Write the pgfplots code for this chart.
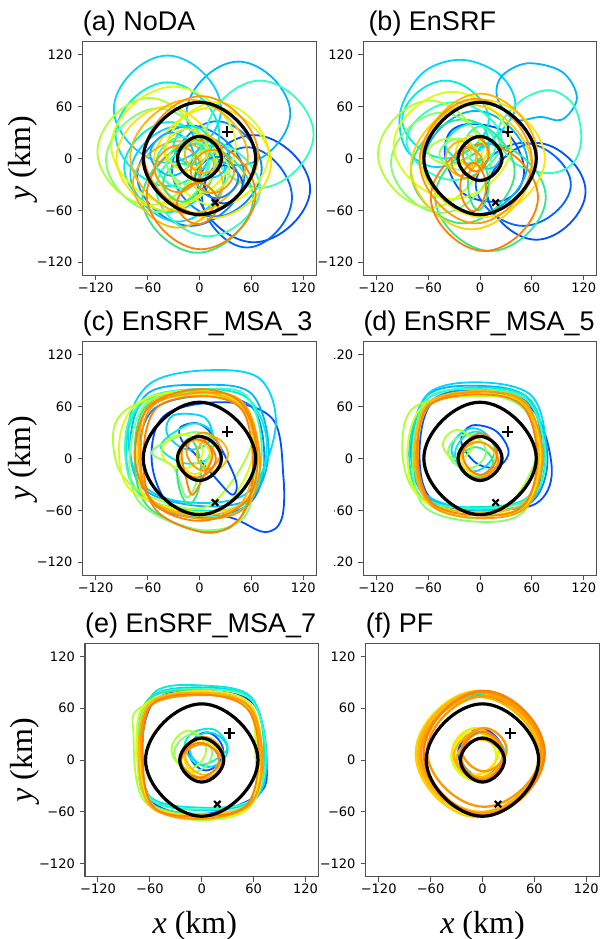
\documentclass[border=0pt]{standalone}
\usepackage{fontspec}
\setmainfont{DejaVu Sans}
\newfontfamily\titlefont{Liberation Sans}
\newfontfamily\labelfont{Liberation Serif}
\usepackage{pgfplots}
\pgfplotsset{compat=1.18}

\definecolor{cA}{HTML}{0050FF}
\definecolor{cA2}{HTML}{0066FF}
\definecolor{cB}{HTML}{0088FF}
\definecolor{cD}{HTML}{00B4FF}
\definecolor{cC}{HTML}{00D4FF}
\definecolor{cE}{HTML}{00EED8}
\definecolor{cF}{HTML}{30FFC0}
\definecolor{cG}{HTML}{30E888}
\definecolor{cH}{HTML}{80FF70}
\definecolor{cI}{HTML}{B0FF30}
\definecolor{cJ}{HTML}{D8FF10}
\definecolor{cK}{HTML}{FFE400}
\definecolor{cK2}{HTML}{FFD000}
\definecolor{cL}{HTML}{FFB400}
\definecolor{cM}{HTML}{FF9800}
\definecolor{cN}{HTML}{FF8000}
\definecolor{FrameColor}{HTML}{505050}

\pgfplotsset{
  panel/.style={
    scale only axis, width=233.5pt, height=233.5pt, anchor=north west,
    xmin=-135, xmax=135, ymin=-135, ymax=135,
    xtick={-120,-60,0,60,120}, ytick={-120,-60,0,60,120},
    xticklabels={−120,−60,0,60,120}, yticklabels={−120,−60,0,60,120},
    tickpos=left, tick align=outside, major tick length=5pt,
    tick style={FrameColor, line width=1pt},
    axis line style={FrameColor, line width=1.1pt},
    ticklabel style={font=\fontsize{13}{15}\selectfont},
    xticklabel style={inner sep=0pt, yshift=-2pt},
    yticklabel style={inner sep=0pt, xshift=-5pt},
    every axis title/.style={at={(axis description cs:0,1)}, anchor=base west,
      yshift=11pt, inner sep=0pt, font=\titlefont\fontsize{27}{30}\selectfont},
    every axis x label/.style={at={(axis description cs:0.5,-0.241)}, anchor=base,
      font=\labelfont\fontsize{32}{36}\selectfont},
    every axis y label/.style={at={(axis description cs:-0.223,0.5)}, rotate=90,
      anchor=base, font=\labelfont\fontsize{32}{36}\selectfont},
  },
  % four points per loop: tension giving round ellipses
  lp/.style={smooth cycle, tension=0.83, line width=1.8pt},
  % six to nine points per loop: wobbly contours
  wl/.style={smooth cycle, tension=0.58, line width=1.8pt},
  bk/.style={smooth cycle, tension=0.83, black, line width=3.2pt},
  pm/.style={only marks, mark=+, mark size=5.5pt, line width=2.2pt, black},
  xm/.style={only marks, mark=x, mark size=4.5pt, line width=2.2pt, black},
}

% reference circles and the two markers, same in every panel
\newcommand{\refmarks}{%
  \addplot[bk] coordinates {(65,0) (0,65) (-65,0) (0,-65)};
  \addplot[bk] coordinates {(25.5,0) (0,25.5) (-25.5,0) (0,-25.5)};
  \addplot[pm] coordinates {(32,31)};
  \addplot[xm] coordinates {(18,-51)};
}

\begin{document}
\begin{tikzpicture}
\path[use as bounding box] (0pt,0pt) rectangle (601pt,-939pt);

% ---------------- (a) NoDA ----------------
\begin{axis}[panel, at={(82.7pt,-41.7pt)}, title={(a) NoDA}, ylabel={\textit{y} (km)}]
\addplot[lp,cA] coordinates {(128,-35) (63,27) (-2,-35) (63,-97)};
\addplot[lp,cA2] coordinates {(107,-45) (55,13) (3,-45) (55,-103)};
\addplot[lp,cB] coordinates {(72,-12) (20,43) (-32,-12) (20,-67)};
\addplot[lp,cB] coordinates {(52,-20) (-10,38) (-72,-20) (-10,-78)};
\addplot[lp,cD] coordinates {(105,52) (45,112) (-15,52) (45,-8)};
\addplot[lp,cC] coordinates {(25,57) (-37,119) (-99,57) (-37,-5)};
\addplot[lp,cC] coordinates {(30,-18) (-25,37) (-80,-18) (-25,-73)};
\addplot[lp,cE] coordinates {(23,28) (-37,88) (-97,28) (-37,-32)};
\addplot[lp,cE] coordinates {(17,-10) (-35,42) (-87,-10) (-35,-62)};
\addplot[lp,cF] coordinates {(132,28) (70,90) (8,28) (70,-34)};
\addplot[lp,cF] coordinates {(70,-35) (10,20) (-50,-35) (10,-90)};
\addplot[lp,cG] coordinates {(62,-46) (-2,17) (-66,-46) (-2,-109)};
\addplot[lp,cH] coordinates {(12,-2) (-48,58) (-108,-2) (-48,-62)};
\addplot[lp,cI] coordinates {(2,8) (-58,70) (-118,8) (-58,-54)};
\addplot[lp,cJ] coordinates {(42,15) (-30,83) (-102,15) (-30,-53)};
\addplot[lp,cJ] coordinates {(80,5) (20,65) (-40,5) (20,-55)};
\addplot[lp,cK] coordinates {(83,-5) (15,59) (-53,-5) (15,-69)};
\addplot[lp,cK] coordinates {(20,0) (-38,60) (-96,0) (-38,-60)};
\addplot[lp,cL] coordinates {(56,2) (-12,68) (-80,2) (-12,-64)};
\addplot[lp,cL] coordinates {(27,-30) (-25,20) (-77,-30) (-25,-80)};
\addplot[lp,cM] coordinates {(68,4) (2,72) (-64,4) (2,-64)};
\addplot[lp,cN] coordinates {(65,-42) (2,21) (-61,-42) (2,-105)};
% inner contours
\addplot[lp,cA] coordinates {(50,-30) (28,-8) (6,-30) (28,-52)};
\addplot[lp,cB] coordinates {(45,-22) (20,2) (-5,-22) (20,-46)};
\addplot[lp,cD] coordinates {(-7,5) (-32,30) (-57,5) (-32,-20)};
\addplot[lp,cC] coordinates {(35,0) (15,22) (-5,0) (15,-22)};
\addplot[lp,cE] coordinates {(14,15) (-8,37) (-30,15) (-8,-7)};
\addplot[lp,cF] coordinates {(10,-5) (-20,25) (-50,-5) (-20,-35)};
\addplot[lp,cG] coordinates {(2,-28) (-20,-6) (-42,-28) (-20,-50)};
\addplot[lp,cH] coordinates {(18,-5) (-10,21) (-38,-5) (-10,-31)};
\addplot[lp,cI] coordinates {(35,-15) (10,10) (-15,-15) (10,-40)};
\addplot[lp,cK] coordinates {(10,10) (-15,34) (-40,10) (-15,-14)};
\addplot[lp,cL] coordinates {(27,5) (5,27) (-17,5) (5,-17)};
\addplot[lp,cM] coordinates {(2,-12) (-25,15) (-52,-12) (-25,-39)};
\addplot[lp,cM] coordinates {(40,-15) (15,10) (-10,-15) (15,-40)};
\addplot[lp,cN] coordinates {(22,-52) (-2,-28) (-26,-52) (-2,-76)};
\refmarks
\end{axis}

% ---------------- (b) EnSRF ----------------
\begin{axis}[panel, at={(363.3pt,-41.7pt)}, title={(b) EnSRF}, title style={xshift=5pt}]
\addplot[lp,cA] coordinates {(122,-38) (65,18) (8,-38) (65,-94)};
\addplot[lp,cA2] coordinates {(105,-30) (50,18) (-5,-30) (50,-78)};
\addplot[wl,cA] coordinates {(50,-5) (30,30) (-10,40) (-35,30) (-40,0) (-20,-40) (20,-50) (45,-35)};
\addplot[lp,cD] coordinates {(55,-5) (-5,55) (-65,-5) (-5,-65)};
\addplot[wl,cC] coordinates {(40,55) (25,95) (-20,114) (-65,100) (-92,55) (-85,10) (-50,-10) (0,10)};
\addplot[wl,cD] coordinates {(112,70) (95,100) (55,110) (25,95) (20,70) (40,45) (70,48) (95,45)};
\addplot[wl,cF] coordinates {(117,25) (108,62) (80,79) (45,65) (20,30) (40,-5) (80,-17) (108,-5)};
\addplot[lp,cE] coordinates {(10,45) (-40,90) (-90,45) (-40,0)};
\addplot[lp,cF] coordinates {(25,20) (-30,65) (-85,20) (-30,-25)};
\addplot[lp,cG] coordinates {(76,-45) (12,17) (-52,-45) (12,-107)};
\addplot[lp,cG] coordinates {(40,-15) (-20,45) (-80,-15) (-20,-75)};
\addplot[lp,cH] coordinates {(13,-5) (-45,53) (-103,-5) (-45,-63)};
\addplot[lp,cI] coordinates {(2,5) (-58,67) (-118,5) (-58,-57)};
\addplot[lp,cJ] coordinates {(36,15) (-32,77) (-100,15) (-32,-47)};
\addplot[lp,cK] coordinates {(75,0) (3,68) (-69,0) (3,-68)};
\addplot[lp,cK2] coordinates {(60,-10) (-10,62) (-80,-10) (-10,-82)};
\addplot[lp,cL] coordinates {(66,5) (0,75) (-66,5) (0,-65)};
\addplot[lp,cM] coordinates {(60,-3) (-5,69) (-70,-3) (-5,-75)};
\addplot[lp,cN] coordinates {(67,-45) (5,17) (-57,-45) (5,-107)};
% inner contours
\addplot[lp,cC] coordinates {(24,3) (10,18) (-4,3) (10,-12)};
\addplot[wl,cE] coordinates {(10,20) (0,40) (-25,35) (-40,15) (-20,-5) (5,0)};
\addplot[lp,cF] coordinates {(18,15) (0,37) (-18,15) (0,-7)};
\addplot[lp,cG] coordinates {(10,-30) (-2,0) (-14,-30) (-2,-60)};
\addplot[lp,cH] coordinates {(-3,5) (-25,23) (-47,5) (-25,-13)};
\addplot[lp,cI] coordinates {(-10,8) (-35,23) (-60,8) (-35,-7)};
\addplot[lp,cK] coordinates {(8,8) (-10,26) (-28,8) (-10,-10)};
\addplot[lp,cL] coordinates {(-4,0) (-22,20) (-40,0) (-22,-20)};
\addplot[lp,cM] coordinates {(3,-5) (-15,13) (-33,-5) (-15,-23)};
\addplot[lp,cN] coordinates {(10,5) (-5,25) (-20,5) (-5,-15)};
\addplot[lp,cN] coordinates {(7,-33) (-8,-5) (-23,-33) (-8,-61)};
\refmarks
\end{axis}

% ---------------- (c) EnSRF_MSA_3 ----------------
\begin{axis}[panel, at={(82.7pt,-341.7pt)}, title={(c) EnSRF\_MSA\_3}, ylabel={\textit{y} (km)}]
\addplot[wl,cA] coordinates {(97,-20) (85,45) (30,65) (-40,50) (-55,-5) (-30,-58) (35,-68) (75,-85) (95,-70)};
\addplot[wl,cB] coordinates {(75,0) (60,60) (0,72) (-55,55) (-70,0) (-50,-55) (10,-68) (60,-50)};
\addplot[wl,cD] coordinates {(80,10) (60,75) (0,85) (-60,75) (-80,20) (-65,-35) (0,-55) (60,-45)};
\addplot[wl,cC] coordinates {(88,35) (70,92) (10,102) (-55,88) (-82,40) (-70,-25) (-20,-50) (55,-40)};
\addplot[wl,cE] coordinates {(78,15) (55,70) (-5,80) (-65,65) (-85,15) (-70,-40) (-10,-60) (55,-50)};
\addplot[wl,cF] coordinates {(72,5) (55,72) (0,80) (-60,70) (-85,30) (-75,-35) (-15,-65) (50,-58)};
\addplot[wl,cG] coordinates {(66,0) (50,60) (-5,76) (-62,60) (-75,0) (-60,-55) (0,-83) (45,-72)};
\addplot[wl,cH] coordinates {(65,-10) (55,55) (0,75) (-60,65) (-80,10) (-70,-50) (-5,-82) (50,-70)};
\addplot[wl,cI] coordinates {(60,15) (45,65) (-20,72) (-75,62) (-99,35) (-92,-15) (-55,-45) (10,-55)};
\addplot[wl,cJ] coordinates {(62,5) (45,68) (-15,78) (-70,65) (-92,25) (-85,-30) (-40,-55) (25,-58)};
\addplot[wl,cK] coordinates {(68,5) (52,62) (0,75) (-58,60) (-72,5) (-60,-48) (0,-62) (52,-50)};
\addplot[wl,cL] coordinates {(64,8) (48,60) (-5,78) (-58,62) (-70,10) (-58,-45) (-5,-66) (48,-52)};
\addplot[wl,cM] coordinates {(70,0) (50,65) (0,76) (-55,60) (-68,5) (-55,-50) (5,-70) (55,-55)};
\addplot[wl,cN] coordinates {(62,-10) (50,55) (5,72) (-50,58) (-65,0) (-50,-60) (10,-86) (50,-65)};
\addplot[wl,cN] coordinates {(67,5) (48,64) (-3,80) (-60,58) (-74,-5) (-48,-56) (5,-72) (55,-48)};
% inner contours
\addplot[wl,cA] coordinates {(-22,36) (0,40) (20,20) (42,-25) (38,-42) (18,-22) (-5,5) (-20,20)};
\addplot[wl,cC] coordinates {(15,25) (5,48) (-30,50) (-38,30) (-20,12) (0,12)};
\addplot[wl,cE] coordinates {(15,30) (-10,40) (-45,15) (-20,-5) (10,0)};
\addplot[wl,cH] coordinates {(15,20) (-10,30) (-55,8) (-30,-10) (-15,-45) (0,-20)};
\addplot[lp,cG] coordinates {(2,-15) (-12,23) (-26,-15) (-12,-53)};
\addplot[lp,cJ] coordinates {(4,8) (-20,28) (-44,8) (-20,-12)};
\addplot[lp,cK] coordinates {(13,2) (-5,22) (-23,2) (-5,-18)};
\addplot[lp,cL] coordinates {(33,5) (15,25) (-3,5) (15,-15)};
\addplot[lp,cM] coordinates {(25,8) (5,30) (-15,8) (5,-14)};
\addplot[wl,cN] coordinates {(15,5) (0,25) (-20,10) (-15,-25) (-8,-42) (5,-20)};
\addplot[lp,cN] coordinates {(19,0) (-3,22) (-25,0) (-3,-22)};
\refmarks
\end{axis}

% ---------------- (d) EnSRF_MSA_5 ----------------
\begin{axis}[panel, at={(363.3pt,-341.7pt)}, title={(d) EnSRF\_MSA\_5}]
\addplot[wl,cA] coordinates {(83,-13) (62,55) (5,78) (-55,65) (-70,5) (-55,-48) (10,-58) (65,-52)};
\addplot[wl,cB] coordinates {(78,0) (58,62) (0,80) (-58,65) (-72,0) (-58,-50) (5,-60) (60,-50)};
\addplot[wl,cD] coordinates {(72,5) (55,70) (-5,84) (-62,72) (-80,10) (-62,-45) (5,-58) (58,-50)};
\addplot[wl,cC] coordinates {(76,10) (60,72) (0,88) (-60,75) (-78,15) (-65,-40) (0,-60) (60,-48)};
\addplot[wl,cE] coordinates {(74,5) (58,68) (0,82) (-62,68) (-82,8) (-65,-48) (0,-56) (55,-45)};
\addplot[wl,cF] coordinates {(76,0) (56,66) (0,80) (-60,70) (-76,10) (-62,-46) (0,-58) (58,-46)};
\addplot[wl,cH] coordinates {(68,0) (50,58) (-5,75) (-62,62) (-78,5) (-65,-55) (-5,-73) (50,-62)};
\addplot[wl,cI] coordinates {(66,5) (50,62) (-5,72) (-75,60) (-90,15) (-78,-35) (-35,-65) (25,-62)};
\addplot[wl,cJ] coordinates {(70,3) (52,65) (-3,78) (-65,62) (-84,10) (-70,-45) (-10,-62) (50,-58)};
\addplot[wl,cK] coordinates {(70,5) (52,62) (0,75) (-58,62) (-72,5) (-58,-52) (5,-65) (55,-52)};
\addplot[wl,cL] coordinates {(68,5) (50,64) (-2,78) (-60,64) (-76,5) (-60,-50) (2,-62) (52,-50)};
\addplot[wl,cM] coordinates {(72,5) (52,65) (0,77) (-58,62) (-74,0) (-55,-55) (5,-69) (55,-55)};
\addplot[wl,cN] coordinates {(66,0) (50,60) (0,74) (-60,60) (-72,0) (-55,-52) (0,-66) (50,-55)};
% inner contours
\addplot[wl,cA] coordinates {(33,8) (18,32) (-10,38) (-22,20) (-5,-5) (20,-10)};
\addplot[lp,cC] coordinates {(17,10) (-8,35) (-33,10) (-8,-15)};
\addplot[lp,cE] coordinates {(19,5) (-5,31) (-29,5) (-5,-21)};
\addplot[lp,cG] coordinates {(15,-5) (-5,13) (-25,-5) (-5,-23)};
\addplot[lp,cH] coordinates {(7,8) (-15,28) (-37,8) (-15,-12)};
\addplot[lp,cI] coordinates {(-9,16) (-26,33) (-43,16) (-26,-1)};
\addplot[lp,cK] coordinates {(18,0) (-2,20) (-22,0) (-2,-20)};
\addplot[lp,cL] coordinates {(24,3) (2,25) (-20,3) (2,-19)};
\addplot[lp,cM] coordinates {(21,-2) (-2,19) (-25,-2) (-2,-23)};
\addplot[lp,cN] coordinates {(20,5) (0,29) (-20,5) (0,-19)};
\refmarks
\end{axis}
% the left panel hides the start of these tick labels in the original
\fill[white] (317.5pt,-341pt) rectangle (334pt,-600pt);

% ---------------- (e) EnSRF_MSA_7 ----------------
\begin{axis}[panel, at={(85pt,-643.3pt)}, title={(e) EnSRF\_MSA\_7},
  ylabel={\textit{y} (km)}, xlabel={\textit{x} (km)}, xlabel style={xshift=-7pt}]
\addplot[wl,cA] coordinates {(75,-5) (60,65) (0,80) (-55,68) (-70,5) (-55,-50) (5,-62) (65,-40)};
\addplot[wl,cC] coordinates {(75,5) (58,70) (0,84) (-60,72) (-72,10) (-60,-45) (5,-58) (62,-45)};
\addplot[wl,cE] coordinates {(72,10) (58,72) (5,86) (-55,78) (-70,15) (-60,-42) (0,-55) (60,-45)};
\addplot[wl,cF] coordinates {(74,8) (57,70) (2,82) (-58,72) (-70,10) (-58,-46) (2,-57) (60,-44)};
\addplot[wl,cG] coordinates {(70,0) (52,64) (-2,80) (-62,70) (-74,10) (-62,-48) (-2,-62) (56,-50)};
\addplot[wl,cH] coordinates {(68,0) (52,62) (0,78) (-62,66) (-74,5) (-60,-50) (0,-64) (58,-48)};
\addplot[wl,cI] coordinates {(62,10) (52,66) (-10,76) (-72,60) (-79,30) (-68,-45) (-10,-69) (55,-55)};
\addplot[wl,cJ] coordinates {(65,5) (50,65) (-5,78) (-65,65) (-75,15) (-62,-48) (-5,-66) (55,-55)};
\addplot[wl,cK] coordinates {(70,5) (55,66) (0,80) (-60,66) (-72,10) (-58,-52) (0,-63) (58,-50)};
\addplot[wl,cL] coordinates {(68,5) (52,64) (-3,78) (-60,66) (-73,5) (-58,-55) (5,-65) (58,-48)};
\addplot[wl,cM] coordinates {(70,0) (55,62) (0,75) (-60,62) (-70,5) (-55,-55) (0,-68) (55,-52)};
\addplot[wl,cN] coordinates {(66,5) (52,60) (0,76) (-58,64) (-68,0) (-55,-55) (2,-65) (52,-52)};
% inner contours
\addplot[lp,cA] coordinates {(25,10) (5,32) (-15,10) (5,-12)};
\addplot[lp,cC] coordinates {(30,12) (8,32) (-14,12) (8,-8)};
\addplot[wl,cE] coordinates {(30,15) (15,35) (-10,32) (-20,15) (-5,-5) (15,0)};
\addplot[lp,cH] coordinates {(12,8) (-10,30) (-32,8) (-10,-14)};
\addplot[lp,cI] coordinates {(5,12) (-15,34) (-35,12) (-15,-10)};
\addplot[lp,cK] coordinates {(20,2) (0,24) (-20,2) (0,-20)};
\addplot[lp,cL] coordinates {(25,5) (3,27) (-19,5) (3,-17)};
\addplot[lp,cM] coordinates {(24,-2) (0,18) (-24,-2) (0,-22)};
\addplot[lp,cN] coordinates {(20,0) (-2,20) (-24,0) (-2,-20)};
\refmarks
\end{axis}

% ---------------- (f) PF ----------------
\begin{axis}[panel, at={(365.7pt,-643.3pt)}, title={(f) PF}, xlabel={\textit{x} (km)},
  lp/.append style={line width=2.3pt}]
\addplot[lp,cA] coordinates {(67,6) (-3,74) (-73,6) (-3,-62)};
\addplot[lp,cE] coordinates {(68,7) (-2,76) (-72,7) (-2,-62)};
\addplot[lp,cJ] coordinates {(67,8) (-4,78) (-75,8) (-4,-62)};
\addplot[lp,cK] coordinates {(67,9) (-5,80) (-77,9) (-5,-62)};
\addplot[lp,cK2] coordinates {(65,6) (-6,78) (-77,6) (-6,-66)};
\addplot[lp,cL] coordinates {(70,10) (-2,80) (-74,10) (-2,-60)};
\addplot[lp,cL] coordinates {(66,5) (-4,73) (-74,5) (-4,-63)};
\addplot[lp,cM] coordinates {(71,8) (0,78) (-71,8) (0,-62)};
\addplot[lp,cM] coordinates {(68,10) (2,74) (-64,10) (2,-54)};
\addplot[lp,cN] coordinates {(72,8) (2,80) (-68,8) (2,-64)};
% inner contours
\addplot[lp,cA] coordinates {(24,8) (-2,36) (-28,8) (-2,-20)};
\addplot[lp,cE] coordinates {(26,6) (0,32) (-26,6) (0,-20)};
\addplot[lp,cJ] coordinates {(16,5) (-10,33) (-36,5) (-10,-23)};
\addplot[lp,cK] coordinates {(19,10) (-8,37) (-35,10) (-8,-17)};
\addplot[lp,cL] coordinates {(23,5) (-5,32) (-33,5) (-5,-22)};
\addplot[lp,cL] coordinates {(24,2) (-3,24) (-30,2) (-3,-20)};
\addplot[lp,cM] coordinates {(28,12) (2,37) (-24,12) (2,-13)};
\addplot[lp,cN] coordinates {(25,5) (0,33) (-25,5) (0,-23)};
\refmarks
\end{axis}
\end{tikzpicture}
\end{document}
